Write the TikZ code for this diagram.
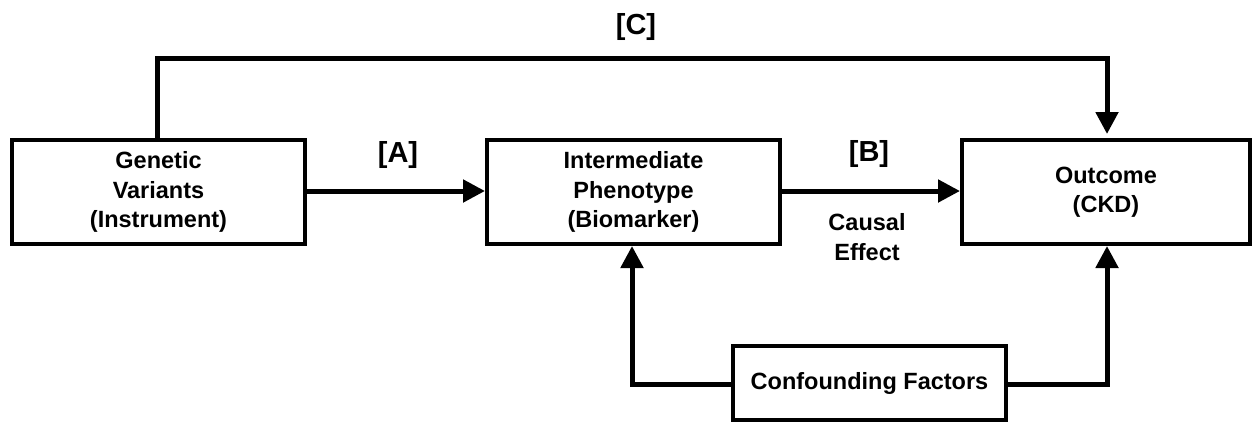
\documentclass[tikz,border=0pt]{standalone}
\usepackage{fontspec}
\setmainfont{Liberation Sans}
\usetikzlibrary{arrows.meta}
\begin{document}
\begin{tikzpicture}[x=1pt,y=-1pt,
  box/.style={draw, line width=4pt, rectangle, align=center, inner sep=0pt,
    font=\fontsize{23.5}{29.5}\selectfont\bfseries},
  lbl/.style={font=\fontsize{29}{32}\selectfont\bfseries, inner sep=0pt},
  note/.style={align=center, font=\fontsize{23.5}{29.5}\selectfont\bfseries, inner sep=0pt},
  link/.style={line width=5pt, -{Triangle[length=22pt,width=22pt]}}]
\useasboundingbox (0,0) rectangle (1252,421);

% boxes
\node[box, minimum width=293pt, minimum height=104pt] (gen) at (158.5,192) {Genetic\\Variants\\(Instrument)};
\node[box, minimum width=293pt, minimum height=104pt] (mid) at (633.5,192) {Intermediate\\Phenotype\\(Biomarker)};
\node[box, minimum width=288pt, minimum height=104pt] (out) at (1106,192) {Outcome\\(CKD)};
\node[box, minimum width=273pt, minimum height=74pt] (conf) at (869.5,383) {Confounding Factors};

% labels
\node[lbl] (la) at (398,155) {[A]};
\node[lbl] (lb) at (869,154) {[B]};
\node[lbl] (lc) at (636,27) {[C]};
\node[note] (ce) at (867,237) {Causal\\Effect};

% connectors
\draw[link] (gen.east |- 0,191) -- (mid.west |- 0,191);
\draw[link] (mid.east |- 0,191) -- (out.west |- 0,191);
\coordinate (cl) at (157,58);
\coordinate (cr) at (1107,58);
\draw[link, shorten >=4pt] (gen.north -| cl) -- (cl) -- (cr) -- (out.north -| cr);
\coordinate (fl) at (632,384);
\coordinate (fr) at (1107,384);
\draw[link] (conf.west |- fl) -- (fl) -- (mid.south -| fl);
\draw[link] (conf.east |- fr) -- (fr) -- (out.south -| fr);
\end{tikzpicture}
\end{document}
